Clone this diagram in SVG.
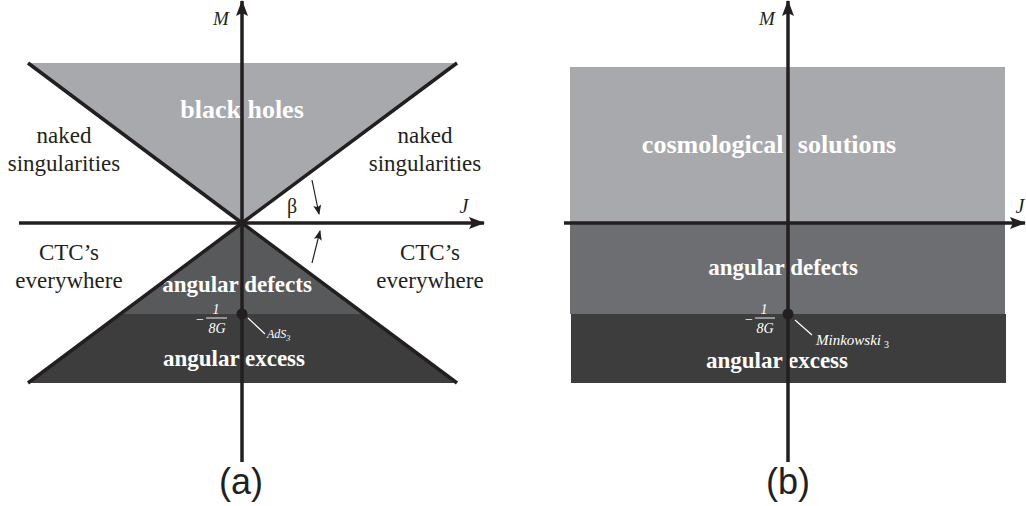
<svg xmlns="http://www.w3.org/2000/svg" width="1026" height="506" viewBox="0 0 1026 506">
<defs>
<marker id="ah" markerWidth="10" markerHeight="8" refX="9" refY="4" orient="auto" markerUnits="userSpaceOnUse">
<path d="M0,0 L10,4 L0,8 L2,4 Z" fill="#231f20"/>
</marker>
<marker id="big" markerWidth="16" markerHeight="12" refX="15" refY="6" orient="auto" markerUnits="userSpaceOnUse">
<path d="M0,0 L16,6 L0,12 L3,6 Z" fill="#231f20"/>
</marker>
<style>
.ser{font-family:"Liberation Serif","Times New Roman",serif;}
.lab{font-family:"Liberation Serif","Times New Roman",serif;font-size:23px;fill:#231f20;text-anchor:middle;}
.wb{font-family:"Liberation Serif","Times New Roman",serif;font-weight:bold;fill:#ffffff;text-anchor:middle;}
.it{font-family:"Liberation Serif","Times New Roman",serif;font-style:italic;}
.frac{font-family:"Liberation Serif","Times New Roman",serif;font-style:italic;font-size:14px;fill:#ffffff;text-anchor:middle;}
.axis{stroke:#231f20;stroke-width:3.5;fill:none;}
.edge{stroke:#231f20;stroke-width:3.5;fill:none;}
.thin{stroke:#231f20;stroke-width:1.2;fill:none;}
.ptr{stroke:#ffffff;stroke-width:1.2;fill:none;}
.bar{stroke:#ffffff;stroke-width:0.9;}
.cap{font-family:"Liberation Sans",Arial,sans-serif;font-size:36px;fill:#231f20;text-anchor:middle;}
</style>
</defs>

<!-- Panel (a) regions -->
<g id="a-blackholes">
<polygon points="28,63 457,63 242,223" fill="#a7a9ac"/>
<text class="wb" x="242" y="118" font-size="26">black holes</text>
</g>
<g id="a-defects">
<polygon points="242,223 364,314 120,314" fill="#58595b"/>
<text class="wb" x="237" y="292" font-size="23">angular defects</text>
</g>
<g id="a-excess">
<polygon points="120,314 364,314 457,383 28,383" fill="#3d3d3e"/>
<text class="wb" x="234" y="366" font-size="23">angular excess</text>
</g>
<g id="a-naked-left"><text class="lab" x="64" y="143">naked</text><text class="lab" x="64" y="171">singularities</text></g>
<g id="a-naked-right"><text class="lab" x="425" y="143">naked</text><text class="lab" x="425" y="171">singularities</text></g>
<g id="a-ctc-left"><text class="lab" x="69" y="260">CTC’s</text><text class="lab" x="69" y="288">everywhere</text></g>
<g id="a-ctc-right"><text class="lab" x="430" y="260">CTC’s</text><text class="lab" x="430" y="288">everywhere</text></g>

<!-- Panel (b) regions -->
<g id="b-cosmo">
<rect x="570" y="67" width="435" height="156" fill="#a8a9ad"/>
<text class="wb" x="769" y="153" font-size="26" word-spacing="8">cosmological solutions</text>
</g>
<g id="b-defects">
<rect x="570" y="223" width="435" height="91" fill="#6d6e71"/>
<text class="wb" x="783" y="275" font-size="23">angular defects</text>
</g>
<g id="b-excess">
<rect x="571" y="314" width="435" height="69" fill="#3d3d3e"/>
<text class="wb" x="777" y="368" font-size="23">angular excess</text>
</g>

<g id="connectors">
<line class="edge" x1="28" y1="63" x2="242" y2="223"/>
<line class="edge" x1="457" y1="63" x2="242" y2="223"/>
<line class="edge" x1="242" y1="223" x2="28" y2="383"/>
<line class="edge" x1="242" y1="223" x2="457" y2="383"/>
<line class="axis" x1="242" y1="462" x2="242" y2="1" marker-end="url(#big)"/>
<line class="axis" x1="19" y1="223" x2="484" y2="223" marker-end="url(#big)"/>
<line class="thin" x1="312" y1="180" x2="319" y2="214" marker-end="url(#ah)"/>
<line class="thin" x1="312" y1="263" x2="320" y2="231" marker-end="url(#ah)"/>
<line class="ptr" x1="248" y1="318" x2="265" y2="334"/>
<line class="axis" x1="788" y1="462" x2="788" y2="1" marker-end="url(#big)"/>
<line class="axis" x1="564" y1="223" x2="1025" y2="223" marker-end="url(#big)"/>
<line class="ptr" x1="795" y1="320" x2="812" y2="335"/>
</g>

<g id="a-labels">
<text class="it" x="221" y="25" font-size="19" text-anchor="middle" fill="#231f20">M</text>
<text class="it" x="464" y="213" font-size="20" text-anchor="middle" fill="#231f20">J</text>
<text class="ser" x="292" y="213" font-size="20" text-anchor="middle" fill="#231f20">β</text>
</g>
<g id="a-point">
<circle cx="242" cy="314" r="5.5" fill="#231f20"/>
<text class="ser" x="200" y="324" font-size="14" text-anchor="middle" fill="#ffffff">−</text>
<text class="frac" x="216" y="314">1</text>
<line class="bar" x1="206" y1="318" x2="227" y2="318"/>
<text class="frac" x="217" y="333">8G</text>
<text class="it" x="267" y="338" font-size="12" fill="#ffffff">AdS<tspan font-size="8" dy="3">3</tspan></text>
</g>
<g id="a-caption"><text class="cap" x="241" y="494">(a)</text></g>

<g id="b-labels">
<text class="it" x="767" y="25" font-size="19" text-anchor="middle" fill="#231f20">M</text>
<text class="it" x="1020" y="213" font-size="20" text-anchor="middle" fill="#231f20">J</text>
</g>
<g id="b-point">
<circle cx="788" cy="314" r="5.5" fill="#231f20"/>
<text class="ser" x="749" y="324" font-size="14" text-anchor="middle" fill="#ffffff">−</text>
<text class="frac" x="764" y="314">1</text>
<line class="bar" x1="755" y1="318" x2="775" y2="318"/>
<text class="frac" x="765" y="333">8G</text>
<text class="it" x="816" y="345" font-size="15" fill="#ffffff">Minkowski<tspan font-style="normal" font-size="10" dx="3" dy="3">3</tspan></text>
</g>
<g id="b-caption"><text class="cap" x="788" y="494">(b)</text></g>
</svg>
